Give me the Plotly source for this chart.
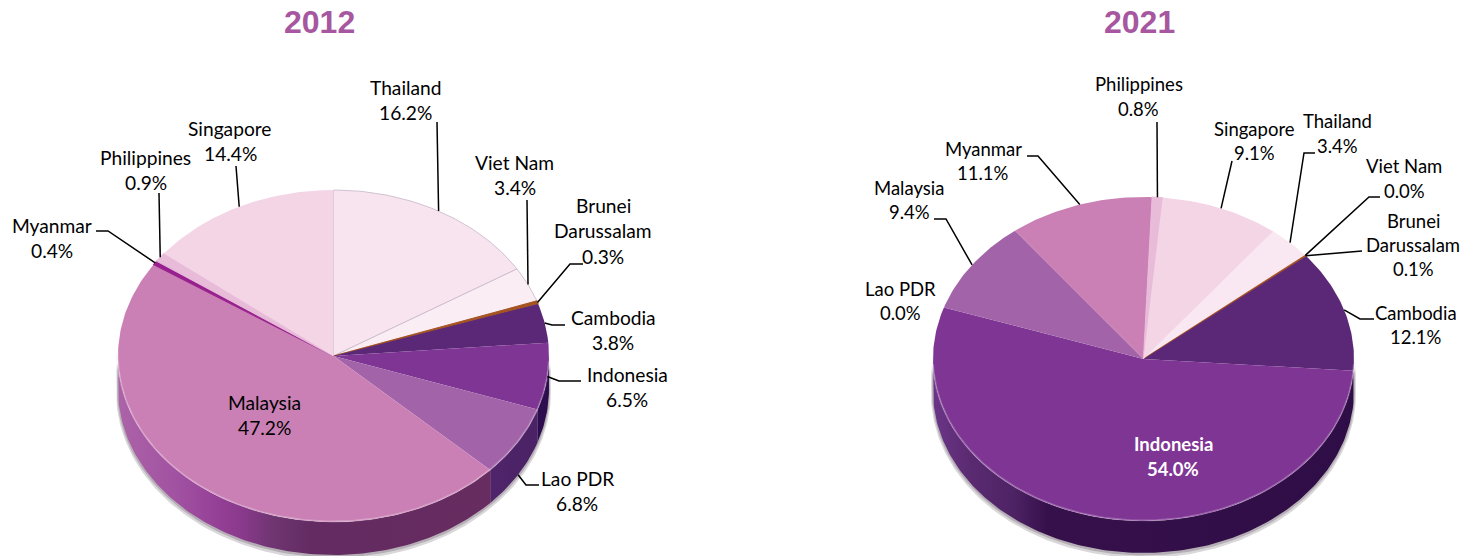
import numpy as np
import plotly.graph_objects as go

regions = ["Thailand", "Viet Nam", "Brunei Darussalam", "Cambodia", "Indonesia",
           "Lao PDR", "Malaysia", "Myanmar", "Philippines", "Singapore"]
share_2012 = [16.2, 3.4, 0.3, 3.8, 6.5, 6.8, 47.2, 0.4, 0.9, 14.4]
share_2021 = [3.4, 0.0, 0.1, 12.1, 54.0, 0.0, 9.4, 11.1, 0.8, 9.1]

colors_2012 = ["#F7E4EF", "#FBEDF4", "#A5541F", "#5B2777", "#7F3594",
               "#A363A9", "#CB80B5", "#98208E", "#E8BBD9", "#F3D5E6"]
colors_2021 = ["#F9E7F1", "#FBEDF4", "#A5541F", "#5B2777", "#7F3594",
               "#7F3594", "#A363A9", "#CB80B5", "#E8BBD9", "#F3D5E6"]

side_2012 = {
    "Indonesia": [[0, "#2E0D4F"], [1, "#2E0D4F"]],
    "Lao PDR": [[0, "#50246A"], [1, "#4A2265"]],
    "Malaysia": [[0, "#AC63A8"], [0.17, "#A050A0"], [0.27, "#943F96"], [0.33, "#8A3A8C"],
                 [0.42, "#6E3570"], [0.52, "#632B62"], [1, "#672C60"]],
}
side_2021 = {
    "Indonesia": [[0, "#6B3588"], [0.09, "#5A2A70"], [0.19, "#4E2365"], [0.27, "#36104B"], [1, "#2F0D46"]],
}

geom_2012 = dict(cx=333.5, cy=356, a=215.5, b=166, depth=33, rotation=0, font=19.2)
geom_2021 = dict(cx=1143.5, cy=359, a=210.5, b=162, depth=32, rotation=38, font=18.5)

# label placement: centre x, y of first text line, line spacing
labels_2012 = {
    "Thailand": (405.5, 87, 25.5), "Viet Nam": (514.5, 162, 25.5),
    "Brunei Darussalam": (603, 205, 25.5), "Cambodia": (613, 317, 25.5),
    "Indonesia": (627, 374, 25.5), "Lao PDR": (577, 478, 25.5),
    "Malaysia": (264.5, 402, 25.5), "Myanmar": (51.5, 225, 25.5),
    "Philippines": (145.5, 157, 25.5), "Singapore": (230, 128, 25.5),
}
labels_2021 = {
    "Thailand": (1337, 121, 25), "Viet Nam": (1404, 166, 25),
    "Brunei Darussalam": (1413, 221, 24), "Cambodia": (1416, 313, 24),
    "Indonesia": (1173, 444, 25), "Lao PDR": (900, 289, 24),
    "Malaysia": (909, 188, 24), "Myanmar": (983, 149, 24),
    "Philippines": (1138.5, 84, 25), "Singapore": (1254, 129, 24),
}
# leader elbows, from label end towards the pie; the last point comes from the slice
leaders_2012 = {
    "Thailand": [(437, 122)], "Viet Nam": [(527, 200)],
    "Brunei Darussalam": [(583, 264), (570, 264)],
    "Cambodia": [(565, 325), (552, 325)], "Indonesia": [(581, 381), (559, 381)],
    "Lao PDR": [(539, 485), (526, 485)], "Myanmar": [(96, 231), (108, 231)],
    "Philippines": [(159, 193)], "Singapore": [(236, 166)],
}
leaders_2021 = {
    "Thailand": [(1315, 153), (1304, 153)], "Viet Nam": [(1380, 197), (1369, 197)],
    "Brunei Darussalam": [(1362, 251)], "Cambodia": [(1374, 319), (1360, 319)],
    "Malaysia": [(934, 219), (946, 219)], "Myanmar": [(1027, 156), (1038, 156)],
    "Philippines": [(1157, 122)], "Singapore": [(1232, 161)],
}
inside_style = {"Indonesia": dict(color="white", weight="bold")}


def ring(g, theta, extra=0.0, grow=0.0):
    t = np.radians(theta)
    return (g["cx"] + (g["a"] + grow) * np.sin(t),
            g["cy"] - (g["b"] + grow) * np.cos(t) + extra)


def spans(values, rotation):
    v = np.array(values, float)
    edges = rotation + np.concatenate([[0], np.cumsum(v / v.sum())]) * 360
    return edges[:-1], edges[1:]


def arc(t0, t1):
    return np.linspace(t0, t1, max(2, int(abs(t1 - t0)) + 2))


def draw_pie(fig, values, colors, sides, g, labels, leaders, outlined=()):
    starts, ends = spans(values, g["rotation"])
    txt = []
    # soft ground shadow under the wall
    for grow, extra, col in [(2.0, 3.0, "#DAD7DA"), (1.0, 1.5, "#B5AFB5")]:
        th = arc(88, 272)
        x1, y1 = ring(g, th, 0, grow)
        x2, y2 = ring(g, th[::-1], g["depth"] + extra, grow)
        fig.add_trace(go.Scatter(x=np.r_[x1, x2], y=np.r_[y1, y2], mode="lines", fill="toself",
                                 fillcolor=col, line=dict(width=0), hoverinfo="skip"))
    # walls of the slices that face the viewer
    for name, s, e in zip(regions, starts, ends):
        lo, hi = max(s, 90), min(e, 270)
        if name not in sides or hi <= lo:
            continue
        th = arc(lo, hi)
        x1, y1 = ring(g, th)
        x2, y2 = ring(g, th[::-1], g["depth"])
        fig.add_trace(go.Scatter(
            x=np.r_[x1, x2, x1[0]], y=np.r_[y1, y2, y1[0]], mode="lines", fill="toself",
            line=dict(width=0), fillcolor=sides[name][0][1], name=name + " wall",
            fillgradient=dict(type="horizontal", colorscale=sides[name]), hoverinfo="skip"))
    # top faces
    for name, val, col, s, e in zip(regions, values, colors, starts, ends):
        if val <= 0:
            continue
        th = arc(s, e)
        x, y = ring(g, th)
        thin = val < 1.0
        line = dict(width=0)
        if thin:
            line = dict(width=1.1, color=col)
        if name in outlined:
            line = dict(width=0.8, color="#C6B6C8")
        fig.add_trace(go.Scatter(
            x=np.r_[g["cx"], x, g["cx"]], y=np.r_[g["cy"], y, g["cy"]], mode="lines",
            fill="toself", fillcolor=col, line=line, name=name,
            hovertemplate=f"{name}: {val:.1f}%<extra></extra>"))
    # pale rim along the front edge
    th = arc(92, 268)
    x, y = ring(g, th, -0.5)
    fig.add_trace(go.Scatter(x=x, y=y, mode="lines", hoverinfo="skip",
                             line=dict(width=1.8, color="rgba(255,255,255,0.25)")))
    # leaders and text
    for name, val, s, e in zip(regions, values, starts, ends):
        mid = (s + e) / 2
        if name in leaders:
            px, py = ring(g, mid)
            if 110 < mid % 360 < 250:
                py += g["depth"]
            xs = [p[0] for p in leaders[name]] + [float(px)]
            ys = [p[1] for p in leaders[name]] + [float(py)]
            fig.add_trace(go.Scatter(x=xs, y=ys, mode="lines", hoverinfo="skip",
                                     line=dict(width=1.5, color="#000000")))
        lx, ly, step = labels[name]
        head = ["Brunei", "Darussalam"] if name == "Brunei Darussalam" else [name]
        lines = head + [f"{val:.1f}%"]
        style = inside_style.get(name) if val > 50 else None
        for i, line_text in enumerate(lines):
            font = dict(family="Lato", size=g["font"], color="#000000")
            if style:
                font.update(style)
            txt.append(dict(x=lx, y=ly + i * step, xref="x", yref="y", text=line_text,
                            showarrow=False, xanchor="center", yanchor="middle", font=font))
    return txt


fig = go.Figure()
ann = draw_pie(fig, share_2012, colors_2012, side_2012, geom_2012, labels_2012, leaders_2012,
               outlined=("Thailand", "Viet Nam"))
ann += draw_pie(fig, share_2021, colors_2021, side_2021, geom_2021, labels_2021, leaders_2021)
for year, xc in [("2012", 319), ("2021", 1139)]:
    ann.append(dict(x=xc, y=22, xref="x", yref="y", text=f"<b>{year}</b>", showarrow=False,
                    xanchor="center", yanchor="middle",
                    font=dict(family="Liberation Sans", size=32, color="#A6579F")))

fig.update_layout(
    width=1470, height=556, margin=dict(l=0, r=0, t=0, b=0), showlegend=False,
    paper_bgcolor="white", plot_bgcolor="white", annotations=ann,
    xaxis=dict(range=[0, 1470], visible=False, fixedrange=True),
    yaxis=dict(range=[556, 0], visible=False, fixedrange=True),
)
fig.write_html("out.html", config=dict(displayModeBar=False),
               post_script="document.body.style.margin='0';document.body.style.overflow='hidden';")
